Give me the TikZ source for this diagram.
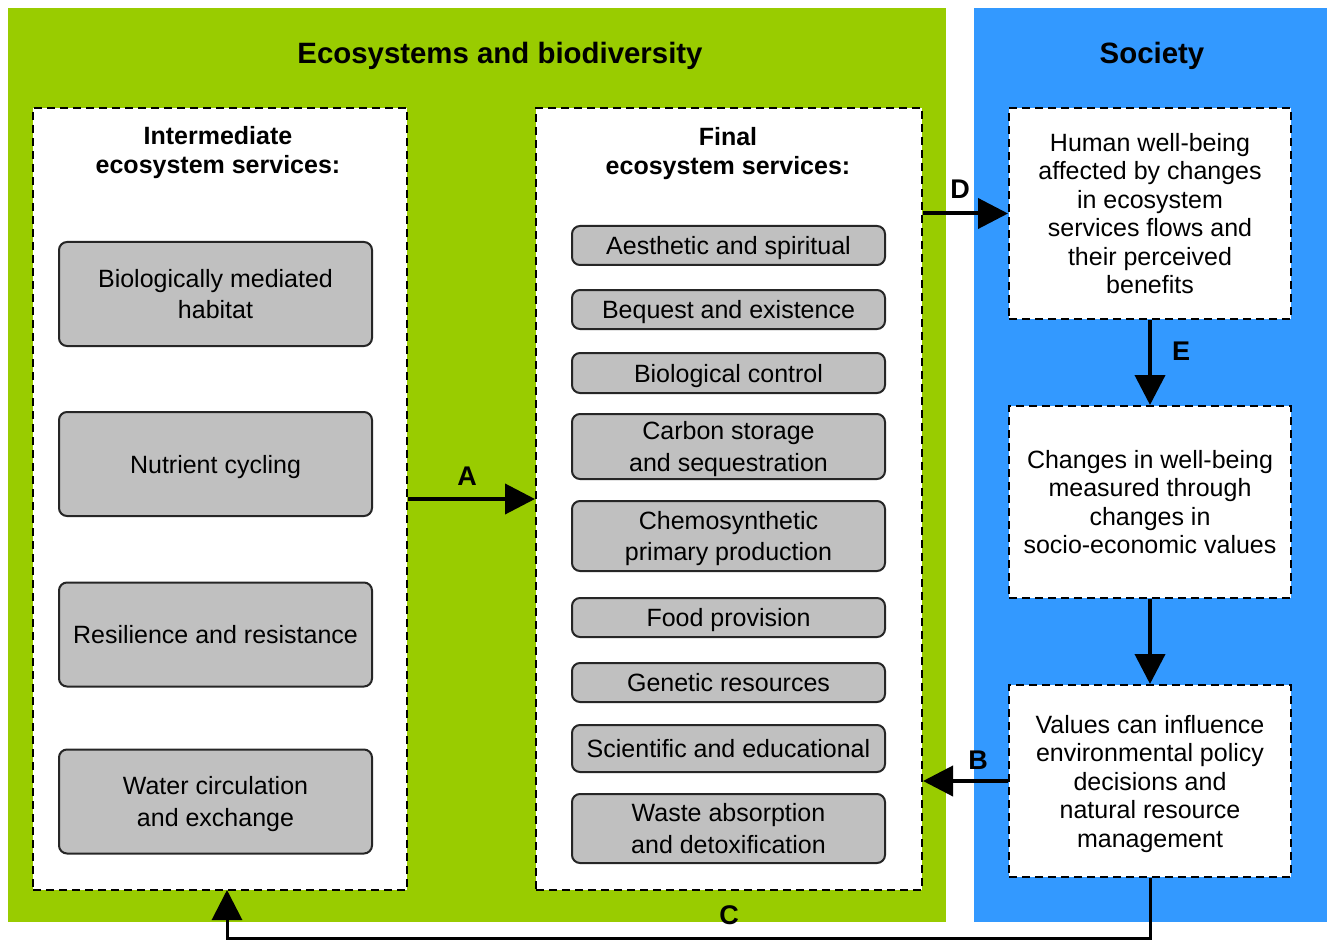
\documentclass[tikz,border=0pt]{standalone}
\usepackage{fontspec}
\setmainfont{Liberation Sans}
\usetikzlibrary{arrows.meta}
\definecolor{grn}{RGB}{153,204,0}
\definecolor{blu}{RGB}{51,153,255}
\definecolor{gbox}{RGB}{192,192,192}
\tikzset{
  dbox/.style={draw=black,fill=white,line width=2pt,dash pattern=on 8pt off 5pt,inner sep=0pt},
  gbox/.style={draw=black!85,fill=gbox,line width=2pt,rounded corners=8pt,minimum width=313pt,
    inner sep=2pt,text depth=0pt,align=center,font=\fontsize{25}{31.5}\selectfont},
  rtext/.style={align=center,text depth=0pt,font=\fontsize{25}{28.5}\selectfont},
  ptitle/.style={text depth=0pt,font=\fontsize{29.4}{34}\selectfont\bfseries},
  btitle/.style={align=center,text depth=0pt,font=\fontsize{25}{29}\selectfont\bfseries},
  lbl/.style={text depth=0pt,font=\fontsize{27}{30}\selectfont\bfseries},
  arr/.style={line width=4pt,-{Triangle[length=30pt,width=30pt]}},
  carr/.style={line width=3pt,-{Triangle[length=30pt,width=30pt]}},
}
\begin{document}
\begin{tikzpicture}[x=1pt,y=-1pt]
\useasboundingbox[fill=white] (0,0) rectangle (1327,941);
% panels
\fill[grn] (8,8) rectangle (946,922);
\fill[blu] (974,8) rectangle (1327,922);
\node[ptitle] (t1) at (500,53) {Ecosystems and biodiversity};
\node[ptitle] (t2) at (1152,53) {Society};
% dashed containers
\node[dbox,minimum width=374pt,minimum height=782pt] (inter) at (220,499) {};
\node[dbox,minimum width=386pt,minimum height=782pt] (final) at (729,499) {};
\node[btitle] (it) at (218,150) {Intermediate\\ecosystem services:};
\node[btitle] (ft) at (728,151) {Final\\ecosystem services:};
% intermediate services
\node[gbox,minimum height=104pt] (i1) at (215.5,294) {Biologically mediated\\habitat};
\node[gbox,minimum height=104pt] (i2) at (215.5,464) {Nutrient cycling};
\node[gbox,minimum height=104pt] (i3) at (215.5,634.5) {Resilience and resistance};
\node[gbox,minimum height=104pt] (i4) at (215.5,801.5) {Water circulation\\and exchange};
% final services
\node[gbox,minimum height=39pt] (f1) at (728.5,245.5) {Aesthetic and spiritual};
\node[gbox,minimum height=39pt] (f2) at (728.5,309.5) {Bequest and existence};
\node[gbox,minimum height=40pt] (f3) at (728.5,373) {Biological control};
\node[gbox,minimum height=65pt] (f4) at (728.5,446.5) {Carbon storage\\and sequestration};
\node[gbox,minimum height=70pt] (f5) at (728.5,536) {Chemosynthetic\\primary production};
\node[gbox,minimum height=39pt] (f6) at (728.5,617.5) {Food provision};
\node[gbox,minimum height=39pt] (f7) at (728.5,682.5) {Genetic resources};
\node[gbox,minimum height=47pt] (f8) at (728.5,748.5) {Scientific and educational};
\node[gbox,minimum height=69pt] (f9) at (728.5,828.5) {Waste absorption\\and detoxification};
% society boxes
\node[dbox,minimum width=282pt,minimum height=211pt] (human) at (1150,213.5) {};
\node[rtext] (humant) at (human.center) {Human well-being\\affected by changes\\in ecosystem\\services flows and\\their perceived\\benefits};
\node[dbox,minimum width=282pt,minimum height=192pt] (chg) at (1150,502) {};
\node[rtext] (chgt) at (chg.center) {Changes in well-being\\measured through\\changes in\\socio-economic values};
\node[dbox,minimum width=282pt,minimum height=192pt] (val) at (1150,781) {};
\node[rtext] (valt) at (val.center) {Values can influence\\environmental policy\\decisions and\\natural resource\\management};
% connectors
\draw[arr] (inter.east) -- (final.west);
\node[lbl] (la) at (467,476) {A};
\draw[arr] (final.east |- human.west) -- (human.west);
\node[lbl] (ld) at (960,189) {D};
\draw[arr] (human.south) -- (chg.north);
\node[lbl] (le) at (1181,351) {E};
\draw[arr] (chg.south) -- (val.north);
\draw[arr] (val.west) -- (final.east |- val.west);
\node[lbl] (lb) at (978,760) {B};
\coordinate (cdown) at (1150,938);
\coordinate (cend) at (227,890);
\draw[carr] (val.south) -- (cdown) -| (cend);
\node[lbl] (lc) at (729,915) {C};
\end{tikzpicture}
\end{document}
